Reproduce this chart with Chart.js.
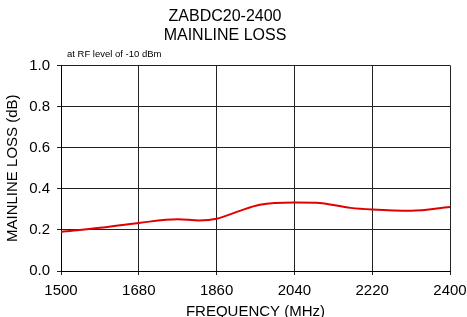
<!DOCTYPE html>
<html><head><meta charset="utf-8">
<script src="https://cdn.jsdelivr.net/npm/chart.js@4/dist/chart.umd.min.js"></script>
<style>html,body{margin:0;padding:0;background:#fff}#wrap{width:467px;height:317px}</style>
</head><body><div id="wrap"><canvas id="c" width="467" height="317"></canvas></div>
<script>
const frequencyMHz = [1500, 1590, 1680, 1770, 1820, 1860, 1910, 1960, 2040, 2090, 2170, 2220, 2310, 2400];
const mainlineLossDb = [0.19, 0.21, 0.234, 0.252, 0.246, 0.254, 0.29, 0.322, 0.333, 0.332, 0.307, 0.299, 0.293, 0.311];
const xTicks = [1500, 1680, 1860, 2040, 2220, 2400];
const yTicks = [0.0, 0.2, 0.4, 0.6, 0.8, 1.0];
const titleLines = ['ZABDC20-2400', 'MAINLINE LOSS'];
const noteText = 'at RF level of -10 dBm';

const FONT = 'Arial, "Liberation Sans", sans-serif';
const notePlugin = {
  id: 'note',
  afterDraw(chart) {
    const ctx = chart.ctx, a = chart.chartArea;
    ctx.save();
    ctx.font = '9.5px ' + FONT;
    ctx.fillStyle = '#000';
    ctx.textBaseline = 'alphabetic';
    ctx.fillText(noteText, a.left + 6, a.top - 8);
    ctx.restore();
  }
};

new Chart(document.getElementById('c'), {
  type: 'scatter',
  data: {
    datasets: [{
      data: frequencyMHz.map((f, i) => ({x: f, y: mainlineLossDb[i]})),
      showLine: true,
      borderColor: '#e00000',
      borderWidth: 2,
      pointRadius: 0,
      tension: 0.4,
      cubicInterpolationMode: 'monotone'
    }]
  },
  options: {
    responsive: false,
    animation: false,
    devicePixelRatio: 1,
    layout: {padding: {left: 0, right: 17, top: 0, bottom: 0}},
    plugins: {
      legend: {display: false},
      tooltip: {enabled: false},
      title: {
        display: true, text: titleLines, color: '#000',
        font: {family: FONT, size: 16, weight: 'normal', lineHeight: 1.2},
        padding: {top: 7, bottom: 20}
      }
    },
    scales: {
      x: {
        type: 'linear', min: 1500, max: 2400,
        afterBuildTicks: s => { s.ticks = xTicks.map(v => ({value: v})); },
        afterFit: s => { s.height = 46; s.paddingLeft = 0; s.paddingRight = 0; },
        ticks: {color: '#000', font: {family: FONT, size: 15}, padding: 7, maxRotation: 0, callback: v => String(v)},
        grid: {color: '#222', lineWidth: 1, tickLength: 4, drawTicks: true},
        border: {color: '#000', width: 1},
        title: {display: true, text: 'FREQUENCY (MHz)', color: '#000', font: {family: FONT, size: 15, lineHeight: 0.75}, padding: {top: 0, bottom: 0}}
      },
      y: {
        min: 0, max: 1,
        afterBuildTicks: s => { s.ticks = yTicks.map(v => ({value: v})); },
        afterFit: s => { s.width = 61; },
        ticks: {color: '#000', font: {family: FONT, size: 15}, padding: 7, callback: v => Number(v).toFixed(1)},
        grid: {color: '#222', lineWidth: 1, tickLength: 4, drawTicks: true},
        border: {color: '#000', width: 1},
        title: {display: true, text: 'MAINLINE LOSS (dB)', color: '#000', font: {family: FONT, size: 15}, padding: {top: 4, bottom: 0}}
      }
    }
  },
  plugins: [notePlugin]
});
</script></body></html>
